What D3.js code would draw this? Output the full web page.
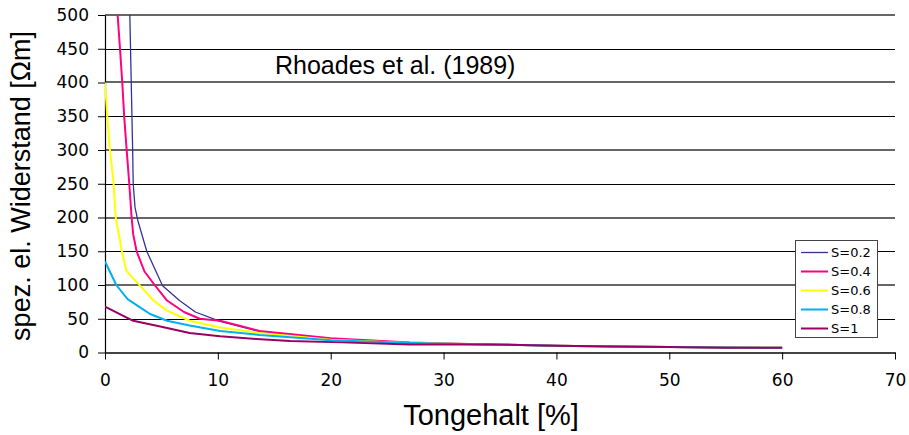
<!DOCTYPE html>
<html><head><meta charset="utf-8">
<script src="https://cdn.jsdelivr.net/npm/d3@7"></script>
<style>
html,body{margin:0;padding:0;background:#fff;}
svg{display:block;}
</style>
</head><body>
<svg id="chart" width="909" height="435"></svg>
<script>
// ---- data ----
const seriesNames = ["S=0.2", "S=0.4", "S=0.6", "S=0.8", "S=1"];
const seriesColors = ["#333399", "#ff0080", "#ffff00", "#00b0f0", "#990066"];
const xTicks = [0, 10, 20, 30, 40, 50, 60, 70];
const yTicks = [0, 50, 100, 150, 200, 250, 300, 350, 400, 450, 500];

const clay02 = [2.1, 2.2, 2.45, 2.5, 2.66, 2.9, 3.7, 5.1, 6.6, 8, 10.2, 13.7, 20, 27, 34, 40, 45, 50, 55, 60];
const rho02  = [560, 500, 300, 250, 215, 196, 150, 99, 77, 60, 46, 31, 20, 14, 12, 10, 9, 8, 7.5, 7];

const clay04 = [1.0, 1.12, 1.33, 1.53, 1.7, 1.92, 2.15, 2.36, 2.5, 2.8, 3.5, 4.4, 5.5, 7, 8.4, 10.2, 13.7, 20, 27, 34, 40, 45, 50, 55, 60];
const rho04  = [560, 500, 450, 400, 350, 300, 250, 200, 175, 150, 120, 100, 77, 60, 50, 47, 32, 21, 15, 12, 10, 9, 8, 7.5, 7];

const clay06 = [0, 0.2, 0.44, 0.74, 0.95, 1.5, 1.9, 3.0, 4.3, 5.5, 7.5, 10.2, 13.7, 20, 27, 34, 40, 45, 50, 55, 60];
const rho06  = [400, 350, 300, 255, 200, 150, 121, 101, 77, 62, 47, 37, 29, 19, 14, 12, 10, 9, 8, 7.5, 7];

const clay08 = [0, 1.0, 2.0, 3.0, 4.0, 5.5, 7.5, 10.2, 13.7, 20, 27, 34, 40, 45, 50, 55, 60];
const rho08  = [135, 100, 79, 68, 57, 47, 40, 32, 26, 18, 14, 12, 10, 9, 8, 7.5, 7];

const clay10 = [0, 2.5, 5, 7.5, 10.2, 13.4, 16.4, 21, 27, 34, 40, 45, 50, 55, 60];
const rho10  = [68, 47, 38, 29, 24, 20, 17, 15, 12, 12, 10, 9, 8, 7, 7];

const seriesX = [clay02, clay04, clay06, clay08, clay10];
const seriesY = [rho02, rho04, rho06, rho08, rho10];

// ---- layout ----
const svg = d3.select("#chart");
const pLeft = 105, pRight = 895, pTop = 15, pBottom = 352.5;
const x = d3.scaleLinear().domain([0, 70]).range([pLeft, pRight]);
const y = d3.scaleLinear().domain([0, 500]).range([pBottom, pTop]);

// gridlines
svg.append("g").selectAll("line").data(yTicks.filter(d => d > 0)).join("line")
  .attr("x1", pLeft).attr("x2", pRight)
  .attr("y1", d => Math.round(y(d)) + (d % 100 === 0 ? 0 : 0.5))
  .attr("y2", d => Math.round(y(d)) + (d % 100 === 0 ? 0 : 0.5))
  .attr("stroke", d => d % 100 === 0 ? "#666" : "#000")
  .attr("stroke-width", d => d % 100 === 0 ? 1.8 : 1);

// axes
const yAxis = d3.axisLeft(y).tickValues(yTicks).tickSize(7).tickPadding(9).tickSizeOuter(0);
const gy = svg.append("g").attr("transform", `translate(${pLeft},0)`).call(yAxis);
gy.select(".domain").attr("stroke", "#000").attr("stroke-width", 1.2);
gy.selectAll(".tick line").attr("stroke", "#000");
gy.selectAll("text").attr("font-family", "DejaVu Sans").attr("font-size", 17).attr("fill", "#000");

const xAxis = d3.axisBottom(x).tickValues(xTicks).tickSize(7).tickPadding(14).tickSizeOuter(0);
const gx = svg.append("g").attr("transform", `translate(0,${pBottom})`).call(xAxis);
gx.select(".domain").attr("stroke", "#444").attr("stroke-width", 1.8);
gx.selectAll(".tick line").attr("stroke", "#000");
gx.selectAll("text").attr("font-family", "DejaVu Sans").attr("font-size", 17).attr("fill", "#000");

// clip
svg.append("clipPath").attr("id", "plotclip").append("rect")
  .attr("x", pLeft).attr("y", pTop).attr("width", pRight - pLeft).attr("height", pBottom - pTop);

const line = d3.line().x(d => x(d[0])).y(d => y(d[1]));
const gl = svg.append("g").attr("clip-path", "url(#plotclip)");
seriesNames.forEach((name, i) => {
  const pts = seriesX[i].map((cx, j) => [cx, seriesY[i][j]]);
  gl.append("path").datum(pts).attr("d", line)
    .attr("fill", "none").attr("stroke", seriesColors[i])
    .attr("stroke-width", i === 0 ? 1.3 : 2).attr("stroke-linejoin", "round");
});

// annotation
svg.append("text").attr("x", 275).attr("y", 73.5)
  .attr("font-family", "Liberation Sans, Arial, sans-serif").attr("font-size", 25)
  .attr("fill", "#000").text("Rhoades et al. (1989)");

// axis titles
svg.append("text").attr("x", 491).attr("y", 425).attr("text-anchor", "middle")
  .attr("font-family", "Liberation Sans, Arial, sans-serif").attr("font-size", 29)
  .attr("fill", "#000").text("Tongehalt [%]");
svg.append("text").attr("transform", "translate(30,186) rotate(-90)").attr("text-anchor", "middle")
  .attr("font-family", "Liberation Sans, Arial, sans-serif").attr("font-size", 27)
  .attr("fill", "#000").text("spez. el. Widerstand [Ωm]");

// legend
const lg = svg.append("g");
lg.append("rect").attr("x", 795.5).attr("y", 240.5).attr("width", 82).attr("height", 97)
  .attr("fill", "#fff").attr("stroke", "#444").attr("stroke-width", 1);
seriesNames.forEach((name, i) => {
  const cy = 252.5 + i * 19;
  lg.append("line").attr("x1", 801).attr("x2", 828).attr("y1", cy).attr("y2", cy)
    .attr("stroke", seriesColors[i]).attr("stroke-width", i === 0 ? 1.3 : 2);
  lg.append("text").attr("x", 831).attr("y", cy).attr("dy", "0.36em")
    .attr("font-family", "DejaVu Sans").attr("font-size", 13).attr("fill", "#000").text(name);
});
</script>
</body></html>
